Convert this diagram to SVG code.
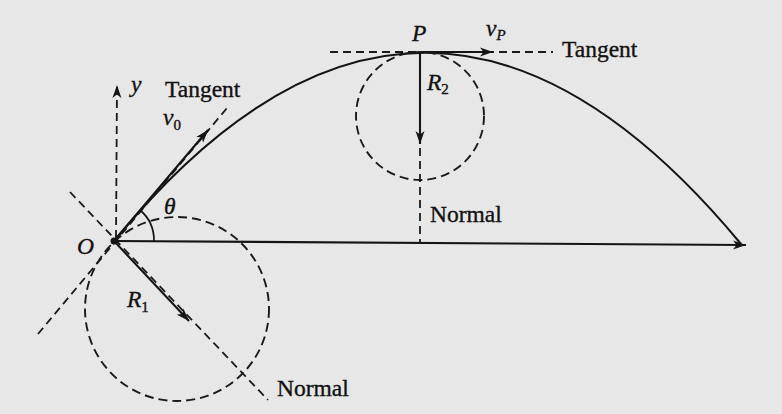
<svg xmlns="http://www.w3.org/2000/svg" width="782" height="414" viewBox="0 0 782 414">
<defs>
<marker id="ah" markerUnits="userSpaceOnUse" markerWidth="14" markerHeight="10" refX="13" refY="5" orient="auto">
<path d="M0,0.5 L13,5 L0,9.5 L3.5,5 Z" fill="#141414"/>
</marker>
<style>
.bg{fill:#e7e7e7}
.solid{fill:none;stroke:#141414;stroke-width:2.1}
.thin{fill:none;stroke:#141414;stroke-width:1.7}
.dash{fill:none;stroke:#1a1a1a;stroke-width:1.8;stroke-dasharray:8 5}
.circ{fill:none;stroke:#1a1a1a;stroke-width:1.9;stroke-dasharray:9 5}
.t{font-family:"Liberation Serif","Times New Roman",serif;font-size:23.5px;fill:#111;stroke:#111;stroke-width:0.35}
.i{font-style:italic}
.s{font-size:15px}
</style>
</defs>
<rect class="bg" x="0" y="0" width="782" height="414"/>
<g id="connectors">
<path class="solid" d="M114,241 Q425,-137 741,244"/>
<line class="solid" x1="114" y1="241" x2="746" y2="245" marker-end="url(#ah)"/>
<line class="dash" x1="116" y1="238" x2="117" y2="85" marker-end="url(#ah)"/>
<line class="dash" x1="38" y1="334" x2="227" y2="108"/>
<line class="dash" x1="70" y1="192" x2="268" y2="400"/>
<line class="solid" x1="114" y1="241" x2="208" y2="130" marker-end="url(#ah)"/>
<line class="solid" x1="114" y1="241" x2="189" y2="321" marker-end="url(#ah)"/>
<path class="thin" d="M154,241 A40,40 0 0 0 140,210"/>
<circle class="circ" cx="177" cy="309" r="92"/>
<line class="dash" x1="330" y1="52" x2="553" y2="52"/>
<line class="solid" x1="418" y1="52" x2="493" y2="52" marker-end="url(#ah)"/>
<line class="solid" x1="420" y1="52" x2="420" y2="144" marker-end="url(#ah)"/>
<line class="dash" x1="420" y1="148" x2="420" y2="243"/>
<circle class="circ" cx="420" cy="116" r="64"/>
<circle cx="114" cy="241" r="3.5" fill="#141414"/>
</g>
<g id="labels">
<text class="t i" x="131" y="92">y</text>
<text class="t" x="165" y="97">Tangent</text>
<text class="t i" x="163" y="125">v<tspan class="s" font-style="normal" dy="5">0</tspan></text>
<text class="t i" x="164" y="214" font-size="21">θ</text>
<text class="t i" x="77" y="254">O</text>
<text class="t i" x="127" y="307">R<tspan class="s" font-style="normal" dy="5">1</tspan></text>
<text class="t" x="277" y="396">Normal</text>
<text class="t i" x="412" y="41">P</text>
<text class="t i" x="486" y="36" font-size="21">v<tspan class="s" dy="4">P</tspan></text>
<text class="t" x="562" y="57">Tangent</text>
<text class="t i" x="427" y="90">R<tspan class="s" font-style="normal" dy="4">2</tspan></text>
<text class="t" x="430" y="222">Normal</text>
</g>
</svg>
